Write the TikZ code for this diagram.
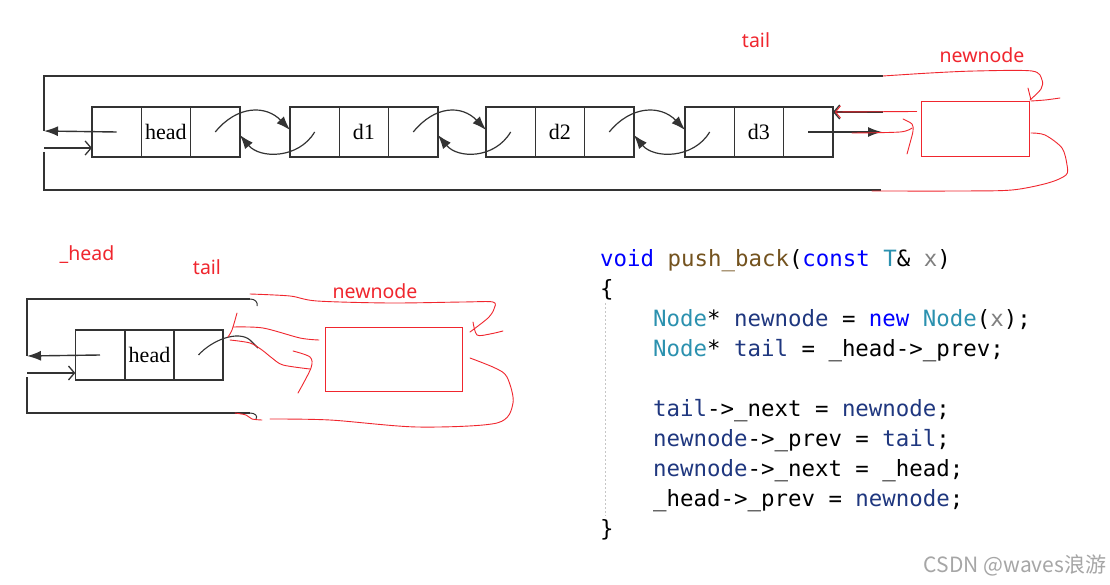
\documentclass[tikz,border=0pt]{standalone}
\usepackage{fontspec}
\setmainfont{Liberation Serif}
\newfontfamily\sansf{Noto Sans}
\newfontfamily\monof{DejaVu Sans Mono}
\newfontfamily\cjkf{Noto Sans CJK SC}
\usetikzlibrary{arrows.meta}
\definecolor{lnc}{HTML}{333333}
\definecolor{redc}{HTML}{F0262E}
\definecolor{kwc}{HTML}{0000FF}
\definecolor{fnc}{HTML}{74531F}
\definecolor{tyc}{HTML}{2B91AF}
\definecolor{pac}{HTML}{808080}
\definecolor{vac}{HTML}{1F377F}
\newcommand{\kwd}[1]{\textcolor{kwc}{#1}}
\newcommand{\fnm}[1]{\textcolor{fnc}{#1}}
\newcommand{\tyn}[1]{\textcolor{tyc}{#1}}
\newcommand{\pam}[1]{\textcolor{pac}{#1}}
\newcommand{\vrn}[1]{\textcolor{vac}{#1}}
\frenchspacing
\begin{document}
\begin{tikzpicture}[x=1pt,y=-1pt,
  ln/.style={draw=lnc,line width=1.4pt},
  cell/.style={draw=lnc,line width=1.4pt,minimum width=49.3pt,minimum height=50pt,inner sep=0pt,outer sep=0pt,font=\fontsize{22}{24}\selectfont},
  redbox/.style={draw=redc,line width=0.9pt,inner sep=0pt},
  rl/.style={draw=redc,line width=0.9pt,line cap=round},
  rlab/.style={text=redc,font=\sansf\fontsize{19.5}{22}\selectfont,inner sep=0pt},
  code/.style={anchor=base west,inner sep=0pt,font=\monof\fontsize{22.4}{26}\selectfont},
  fillarrow/.style={-{Latex[length=14pt,width=10pt]}},
  openarrow/.style={-{Straight Barb[length=6pt,width=14pt,line width=1.3pt]}}]
\useasboundingbox (0,0) rectangle (1110,585);
\fill[white] (0,0) rectangle (1110,585);

% ---------- top list ----------
\node[cell] (h1) at (116.65,132) {};
\node[cell] (h2) at (165.95,132) {head};
\node[cell] (h3) at (215.25,132) {};
\node[cell] (a1) at (314.65,132) {};
\node[cell] (a2) at (363.95,132) {d1};
\node[cell] (a3) at (413.25,132) {};
\node[cell] (b1) at (510.65,132) {};
\node[cell] (b2) at (559.95,132) {d2};
\node[cell] (b3) at (609.25,132) {};
\node[cell] (c1) at (709.65,132) {};
\node[cell] (c2) at (758.95,132) {d3};
\node[cell] (c3) at (808.25,132) {};

\coordinate (tr) at (883,76);
\coordinate (tl) at (44,76);
\coordinate (la) at (44,131);
\coordinate (lb) at (44,148);
\coordinate (lc) at (44,152);
\coordinate (bl) at (44,190);
\coordinate (br) at (881,190);
\draw[ln] (tr) -- (tl) -- (la);
\draw[ln,fillarrow] (h1.center) -- (la);
\draw[ln,openarrow] (lb) -- (lb -| h1.west);
\draw[ln] (lc) -- (bl) -- (br);

\foreach \a/\b in {h3/a1,a3/b1,b3/c1}{
  \draw[draw=lnc,line width=1.2pt,fillarrow] (\a.center) .. controls ([xshift=22pt,yshift=27pt]\a.center) and ([xshift=-24pt,yshift=27pt]\b.west) .. ([yshift=2pt]\b.west);
  \draw[draw=lnc,line width=1.2pt,fillarrow] (\b.center) .. controls ([xshift=-16pt,yshift=-27pt]\b.center) and ([xshift=20pt,yshift=-27pt]\a.east) .. ([yshift=-3pt]\a.east);
}

\coordinate (ra) at (882,132);
\coordinate (rb) at (883,112);
\draw[ln,fillarrow] (c3.center) -- (ra);
\draw[ln,openarrow] (rb) -- (rb -| c3.east);

% red overlay top
\node[redbox,minimum width=108pt,minimum height=55pt] (nn) at (975,128.5) {};
\node[rlab] (lt1) at (756,40) {tail};
\node[rlab] (ln1) at (982,55) {newnode};
\draw[rl,-{Straight Barb[length=5pt,width=12pt]}] ([yshift=17pt]nn.west) ++(-4,0) coordinate (rq) -- ([xshift=2pt,yshift=20pt]c3.east);
\draw[rl] plot[smooth] coordinates {(883,76) (930,73) (975,71) (1032,71) (1042,80) (1041,89) (1030,100)};
\draw[rl] (1028,88) -- (1031,100);
\draw[rl] plot[smooth] coordinates {(1031,101) (1045,100) (1060,98)};
\draw[rl] plot[smooth] coordinates {(903,119) (912,124) (913,131) (910,143) (907,154)};
\draw[rl] plot[smooth] coordinates {(852,133) (900,132) (912,128)};
\draw[rl] plot[smooth] coordinates {(1031,133) (1045,135) (1062,148) (1067,165) (1066,175) (1048,183) (1012,190) (960,191) (872,191)};

% ---------- bottom-left list ----------
\node[cell] (s1) at (100,355) {};
\node[cell] (s2) at (149.5,355) {head};
\node[cell] (s3) at (198.5,355) {};
\coordinate (q1) at (250,299);
\coordinate (q2) at (27,299);
\coordinate (q3) at (27,356);
\coordinate (q4) at (27,373);
\coordinate (q5) at (27,377);
\coordinate (q6) at (27,413);
\coordinate (q7) at (250,413);
\draw[ln] (q1) -- (q2) -- (q3);
\draw[ln,fillarrow] (s1.center) -- (q3);
\draw[ln,openarrow] (q4) -- (q4 -| s1.west);
\draw[ln] (q5) -- (q6) -- (q7);
\draw[draw=lnc,line width=1pt] (q1) .. controls (255,299) and (258,302) .. (257,306);
\draw[draw=lnc,line width=1pt] (q7) .. controls (255,413) and (258,416) .. (256,419);
\draw[draw=lnc,line width=1.1pt] (s3.center) .. controls (212,340) and (238,330) .. (250,340) -- (258,348);

% red overlay bottom
\node[redbox,minimum width=137pt,minimum height=64pt] (nb) at (393.5,359) {};
\node[rlab] (lh) at (87,255) {\_head};
\node[rlab] (lt2) at (207,267) {tail};
\node[rlab] (ln2) at (375,291) {newnode};
\draw[rl] plot[smooth] coordinates {(250,294) (290,296) (317,301) (390,303) (463,302) (493,302) (494,309) (488,318) (470,332)};
\draw[rl] plot[smooth] coordinates {(473,322) (477,335) (490,334) (503,331)};
\draw[rl] plot[smooth] coordinates {(319,340) (300,338) (263,328) (233,327)};
\draw[rl] plot[smooth] coordinates {(237,313) (232,330) (228,337)};
\draw[rl] plot[smooth] coordinates {(230,340) (250,343) (262,350) (272,358) (283,365) (310,369)};
\draw[rl] plot[smooth] coordinates {(293,351) (310,357) (311,368) (298,393)};
\draw[rl] plot[smooth] coordinates {(470,358) (495,368) (507,377) (513,403) (497,423) (417,427) (330,420) (270,419)};
\draw[rl] plot[smooth] coordinates {(235,413) (246,415) (252,419) (262,420)};

% ---------- code ----------
\draw[draw=gray!45,line width=0.6pt,dash pattern=on 2pt off 2pt] (605,303) coordinate (g1) -- (605,516) coordinate (g2);
\node[code] (k1) at (600,266) {\kwd{void} \fnm{push\_back}(\kwd{const} \tyn{T}\& \pam{x})};
\node[code] (k2) at (600,296) {\{};
\node[code] (k3) at (653,326) {\tyn{Node}* \vrn{newnode} = \kwd{new} \tyn{Node}(\pam{x});};
\node[code] (k4) at (653,356) {\tyn{Node}* \vrn{tail} = \_head->\_prev;};
\node[code] (k5) at (653,416) {\vrn{tail}->\_next = \vrn{newnode};};
\node[code] (k6) at (653,446) {\vrn{newnode}->\_prev = \vrn{tail};};
\node[code] (k7) at (653,476) {\vrn{newnode}->\_next = \_head;};
\node[code] (k8) at (653,506) {\_head->\_prev = \vrn{newnode};};
\node[code] (k9) at (600,536) {\}};

% watermark
\node[text=gray!70,font=\cjkf\fontsize{21}{24}\selectfont,inner sep=0pt] (wm) at (1015,565) {CSDN @waves浪游};
\end{tikzpicture}
\end{document}
